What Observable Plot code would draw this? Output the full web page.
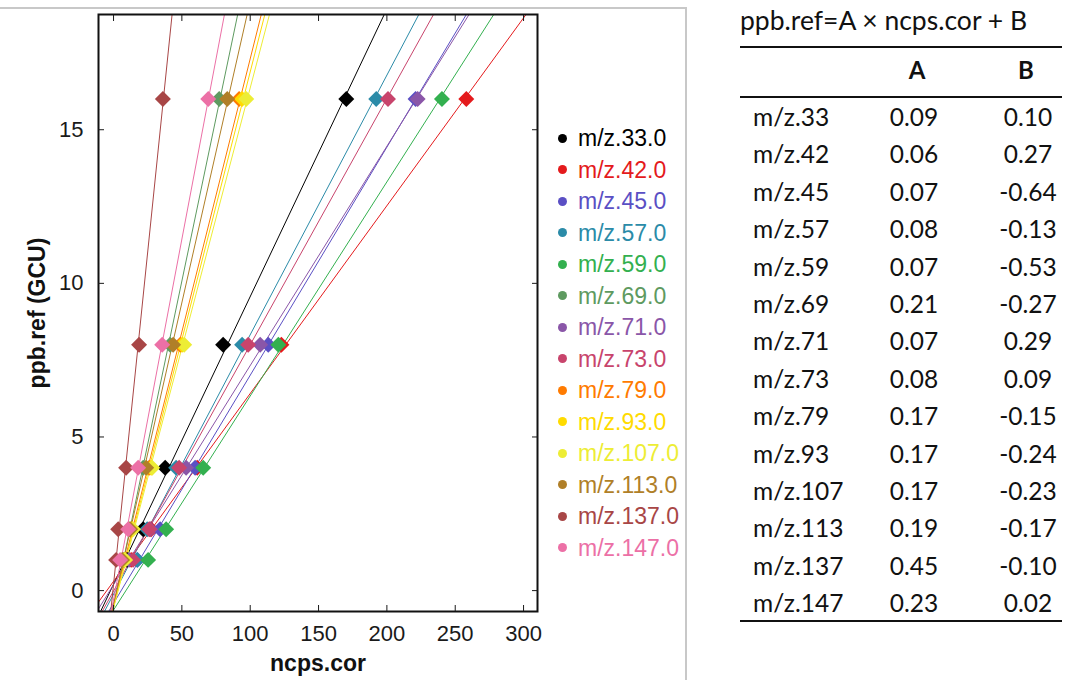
<!DOCTYPE html>
<html>
<head>
<meta charset="utf-8">
<script src="https://cdn.jsdelivr.net/npm/d3@7"></script>
<script src="https://cdn.jsdelivr.net/npm/@observablehq/plot@0.6"></script>
<style>
  html, body { margin: 0; padding: 0; background: #fff; }
  body { width: 1071px; height: 680px; position: relative; overflow: hidden; font-family: "Liberation Sans", Arial, sans-serif; }
  #border { position: absolute; left: 0; top: 7px; width: 687px; height: 700px; border-top: 2px solid #c8c8c8; border-right: 2px solid #c8c8c8; box-sizing: border-box; }
  #chart { position: absolute; left: 0; top: 0; }
  #legend { position: absolute; left: 0; top: 0; }
  .lg { position: absolute; height: 30px; line-height: 30px; font-size: 23px; white-space: nowrap; }
  .lg .dot { position: absolute; left: 0; top: 10.5px; width: 9px; height: 9px; border-radius: 50%; }
  .lg .lab { position: absolute; left: 20px; top: 0; }
  #table { position: absolute; left: 0; top: 0; font-family: Lato, "Open Sans", sans-serif; color: #111; }
  .tt { position: absolute; white-space: nowrap; }
  .rule { position: absolute; left: 740px; width: 322px; height: 2px; background: #111; }
</style>
</head>
<body>
<div id="border"></div>
<div id="chart"></div>
<div id="legend"></div>
<div id="table"></div>
<script>
// ---------- data ----------
const series = ["m/z.33.0","m/z.42.0","m/z.45.0","m/z.57.0","m/z.59.0","m/z.69.0","m/z.71.0","m/z.73.0","m/z.79.0","m/z.93.0","m/z.107.0","m/z.113.0","m/z.137.0","m/z.147.0"];
const colors = ["#000000","#e41a1c","#5a4fc4","#2b8ba8","#33b04f","#5e9a60","#8a56a8","#c8446c","#ff7b00","#ffdb00","#eded35","#b07f28","#a84646","#ec70a6"];
const ppbLevels = [1, 2, 4, 8, 16];
// ncps.cor read for each series at each ppb level
const ncpsAt1  = [10.0, 12.9, 17.5, 17.3, 25.3, 7.0, 11.4, 14.3, 7.8, 8.1, 8.5, 6.3, 1.9, 4.8];
const ncpsAt2  = [21.7, 27.5, 34.1, 24.6, 38.5, 11.4, 26.8, 26.1, 12.9, 13.6, 14.3, 12.2, 3.4, 10.7];
const ncpsAt4  = [37.8, 61.2, 59.7, 45.8, 65.6, 21.7, 53.1, 48.0, 26.1, 27.5, 28.3, 23.9, 9.2, 18.0];
const ncpsAt8  = [80.2, 122.8, 113.2, 94.1, 120.6, 41.4, 107.3, 98.5, 48.8, 50.2, 51.7, 43.6, 18.7, 35.6];
const ncpsAt16 = [170.3, 258.1, 221.0, 192.2, 240.3, 77.3, 222.5, 200.8, 91.9, 94.1, 97.1, 83.2, 36.1, 69.3];
const xTicks = [0, 50, 100, 150, 200, 250, 300];
const yTicks = [0, 5, 10, 15];

const tableTitle = "ppb.ref=A × ncps.cor + B";
const tableLabels = ["m/z.33","m/z.42","m/z.45","m/z.57","m/z.59","m/z.69","m/z.71","m/z.73","m/z.79","m/z.93","m/z.107","m/z.113","m/z.137","m/z.147"];
const coefA = ["0.09","0.06","0.07","0.08","0.07","0.21","0.07","0.08","0.17","0.17","0.17","0.19","0.45","0.23"];
const coefB = ["0.10","0.27","-0.64","-0.13","-0.53","-0.27","0.29","0.09","-0.15","-0.24","-0.23","-0.17","-0.10","0.02"];

// ---------- build tables ----------
const xDomain = [-11, 310.2];
const yDomain = [-0.68, 18.75];
const columns = [ncpsAt1, ncpsAt2, ncpsAt4, ncpsAt8, ncpsAt16];
const points = [];
series.forEach((s, i) => {
  ppbLevels.forEach((p, j) => points.push({series: s, x: columns[j][i], y: p}));
});
// least-squares fit ppb = a*ncps + b for each series, extended over the x domain
const fitLines = [];
series.forEach((s, i) => {
  const pts = points.filter(d => d.series === s);
  const mx = d3.mean(pts, d => d.x), my = d3.mean(pts, d => d.y);
  const a = d3.sum(pts, d => (d.x - mx) * (d.y - my)) / d3.sum(pts, d => (d.x - mx) ** 2);
  const b = my - a * mx;
  xDomain.forEach(x => fitLines.push({series: s, x, y: a * x + b}));
});

// ---------- chart ----------
const chart = Plot.plot({
  width: 690,
  height: 680,
  marginLeft: 98,
  marginRight: 153,
  marginTop: 14,
  marginBottom: 69,
  x: {domain: xDomain},
  y: {domain: yDomain},
  color: {domain: series, range: colors},
  style: {fontFamily: "'Liberation Sans', Arial, sans-serif", fontSize: "22px", color: "#1a1a1a", background: "transparent"},
  marks: [
    Plot.line(fitLines, {x: "x", y: "y", z: "series", stroke: "series", strokeWidth: 1, clip: true}),
    Plot.dot(points, {x: "x", y: "y", fill: "series", symbol: "diamond2", r: 7.2, clip: true}),
    Plot.frame({stroke: "#111", strokeWidth: 2}),
    Plot.axisX({ticks: xTicks, tickSize: -6, tickPadding: 20, label: null, fontSize: 22}),
    Plot.axisX({anchor: "top", ticks: xTicks, tickSize: -6, tickFormat: () => "", label: null}),
    Plot.axisY({ticks: yTicks, tickSize: -6, tickPadding: 21, label: null, fontSize: 22}),
    Plot.axisY({anchor: "right", ticks: yTicks, tickSize: -6, tickFormat: () => "", label: null}),
    Plot.text(["ncps.cor"], {frameAnchor: "bottom", dy: 59, fontWeight: "bold", fontSize: 23, fill: "#111"}),
    Plot.text(["ppb.ref (GCU)"], {frameAnchor: "left", textAnchor: "middle", dx: -61, rotate: -90, fontWeight: "bold", fontSize: 23, fill: "#111"})
  ]
});
document.getElementById("chart").appendChild(chart);

// ---------- legend ----------
const legend = d3.select("#legend");
series.forEach((s, i) => {
  const row = legend.append("div").attr("class", "lg")
    .style("left", "558px").style("top", (138 + 31.5 * i - 15) + "px");
  row.append("span").attr("class", "dot").style("background", colors[i]);
  row.append("span").attr("class", "lab").style("color", colors[i]).text(s);
});

// ---------- coefficient table ----------
const tbl = d3.select("#table");
tbl.append("div").attr("class", "tt").style("left", "740px").style("top", "3px")
  .style("font-size", "26.5px").style("line-height", "34px").text(tableTitle);
[46, 96, 620].forEach(y => tbl.append("div").attr("class", "rule").style("top", y + "px"));
const header = [["A", 917], ["B", 1026]];
header.forEach(([t, cx]) => tbl.append("div").attr("class", "tt")
  .style("left", (cx - 40) + "px").style("width", "80px").style("text-align", "center")
  .style("top", "54px").style("line-height", "32px").style("font-size", "24px").style("font-weight", "bold").text(t));
tableLabels.forEach((lab, i) => {
  const top = 117 + 37.4 * i - 16;
  tbl.append("div").attr("class", "tt").style("left", "753px").style("top", top + "px")
    .style("line-height", "32px").style("font-size", "24.5px").text(lab);
  tbl.append("div").attr("class", "tt").style("left", "864px").style("width", "100px").style("text-align", "center")
    .style("top", top + "px").style("line-height", "32px").style("font-size", "24.5px").text(coefA[i]);
  tbl.append("div").attr("class", "tt").style("left", "978px").style("width", "100px").style("text-align", "center")
    .style("top", top + "px").style("line-height", "32px").style("font-size", "24.5px").text(coefB[i]);
});
</script>
</body>
</html>
